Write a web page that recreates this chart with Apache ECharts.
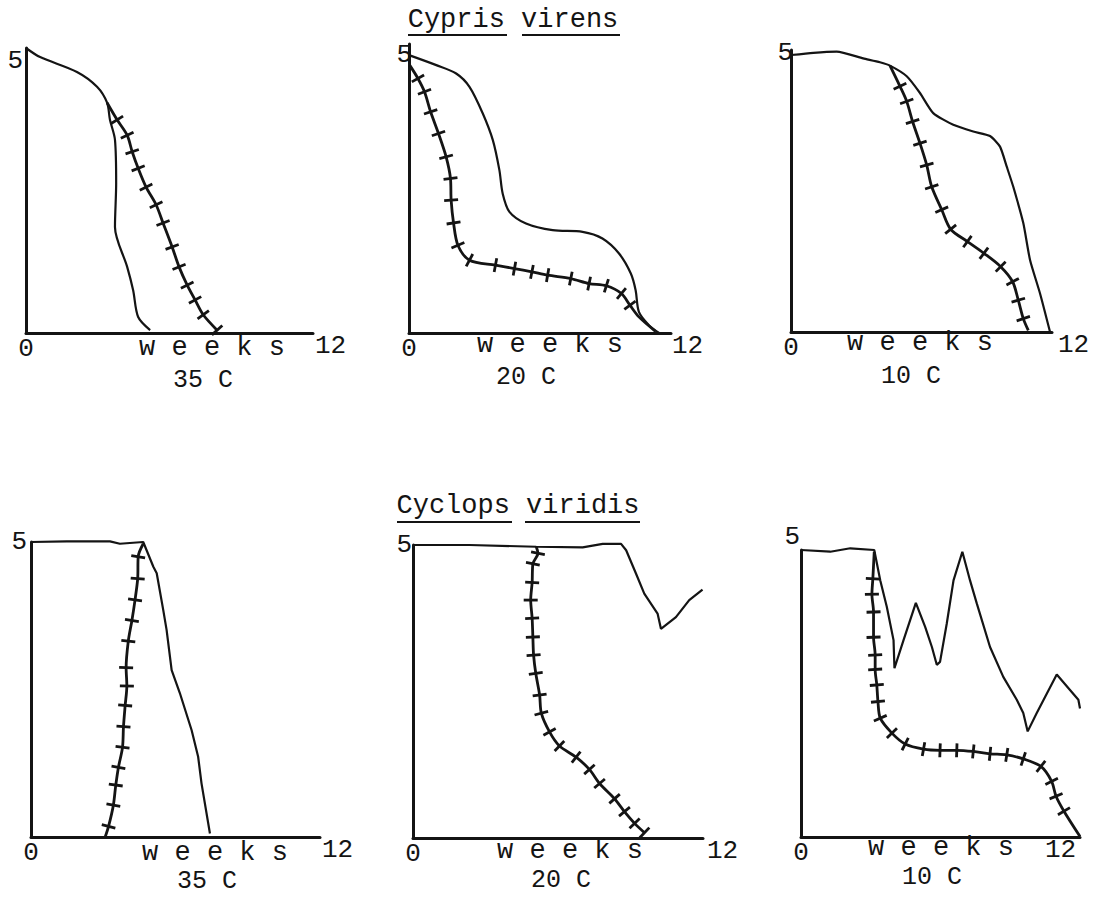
<!DOCTYPE html>
<html><head><meta charset="utf-8">
<script src="https://cdn.jsdelivr.net/npm/echarts@6/dist/echarts.min.js"></script>
<style>html,body{margin:0;padding:0;background:#fff}#c{width:1093px;height:897px}</style>
</head><body><div id="c"></div>
<script>
// ---------- DATA (weeks vs. value) ----------
const speciesTitles = ['Cypris virens', 'Cyclops viridis'];
const tempLabels = ['35 C', '20 C', '10 C', '35 C', '20 C', '10 C'];
const weeksLabel = 'w e e k s';
const xTickLabels = ['0', '12'];
const yTickLabel = '5';

// Cypris virens 35 C
const p1PlainX = [0, 0.59, 2.13, 2.97, 3.39, 3.51, 3.72, 3.77, 3.72, 4.23, 4.48, 4.69, 5.19];
const p1PlainY = [5.0, 4.84, 4.58, 4.32, 4.04, 3.74, 3.39, 2.63, 1.86, 1.16, 0.75, 0.28, 0.05];
const p1CrossX = [3.39, 3.81, 4.23, 4.44, 4.69, 5.02, 5.44, 5.73, 6.11, 6.40, 6.74, 7.07, 7.41, 7.99];
const p1CrossY = [4.04, 3.74, 3.47, 3.18, 2.89, 2.56, 2.25, 1.93, 1.51, 1.16, 0.84, 0.58, 0.32, 0.05];
// Cypris virens 20 C
const p2PlainX = [0, 1.25, 2.16, 2.77, 3.38, 3.84, 4.14, 4.29, 4.60, 5.36, 6.58, 7.95, 8.86, 9.62, 10.16, 10.38, 10.53, 10.99, 11.45];
const p2PlainY = [5.0, 4.82, 4.67, 4.43, 3.95, 3.47, 2.93, 2.51, 2.18, 1.97, 1.85, 1.82, 1.70, 1.43, 1.07, 0.77, 0.38, 0.14, 0];
const p2CrossX = [0.03, 0.41, 0.71, 0.99, 1.35, 1.70, 1.90, 1.93, 2.04, 2.24, 2.77, 3.96, 4.83, 5.63, 6.35, 7.41, 8.25, 9.04, 9.73, 10.12, 10.53, 11.29];
const p2CrossY = [4.82, 4.58, 4.34, 3.98, 3.59, 3.17, 2.78, 2.39, 1.98, 1.58, 1.31, 1.22, 1.16, 1.10, 1.04, 0.98, 0.89, 0.85, 0.71, 0.50, 0.29, 0.03];
// Cypris virens 10 C
const p3PlainX = [0, 1.03, 2.10, 3.32, 4.09, 4.55, 5.32, 5.93, 6.54, 7.46, 8.38, 9.15, 9.61, 9.92, 10.22, 10.68, 10.99, 11.45, 11.91];
const p3PlainY = [4.96, 5.0, 5.02, 4.90, 4.83, 4.77, 4.58, 4.28, 3.92, 3.71, 3.59, 3.51, 3.32, 2.96, 2.60, 1.95, 1.29, 0.69, 0];
const p3CrossX = [4.55, 5.01, 5.32, 5.59, 5.93, 6.24, 6.47, 6.93, 7.34, 8.11, 8.87, 9.64, 10.19, 10.45, 10.68, 10.91];
const p3CrossY = [4.77, 4.40, 4.13, 3.77, 3.38, 2.99, 2.60, 2.19, 1.84, 1.62, 1.41, 1.17, 0.90, 0.57, 0.24, 0.03];
// Cyclops viridis 35 C
const p4PlainX = [0, 1.49, 3.28, 3.69, 4.66, 5.08, 5.22, 5.49, 5.63, 5.84, 6.18, 6.67, 6.94, 7.08, 7.43];
const p4PlainY = [5.0, 5.01, 5.01, 4.97, 5.0, 4.58, 4.47, 3.85, 3.51, 2.83, 2.44, 1.81, 1.36, 0.91, 0.06];
const p4CrossX = [4.66, 4.45, 4.43, 4.32, 4.19, 4.04, 3.95, 3.98, 3.91, 3.84, 3.80, 3.63, 3.52, 3.42, 3.22, 3.08];
const p4CrossY = [4.97, 4.75, 4.38, 4.02, 3.67, 3.32, 2.87, 2.56, 2.23, 1.87, 1.52, 1.18, 0.88, 0.54, 0.18, 0];
// Cyclops viridis 20 C
const p5PlainX = [0, 2.34, 5.10, 7.02, 7.85, 8.61, 8.82, 9.23, 9.57, 10.12, 10.26, 10.88, 11.43, 11.98];
const p5PlainY = [5.0, 5.0, 4.97, 4.96, 5.02, 5.02, 4.91, 4.51, 4.17, 3.83, 3.57, 3.77, 4.06, 4.24];
const p5CrossX = [5.10, 5.17, 4.96, 4.93, 4.87, 4.93, 4.96, 4.99, 5.08, 5.24, 5.31, 5.65, 6.06, 6.75, 7.30, 7.72, 8.34, 8.75, 9.17, 9.58];
const p5CrossY = [4.97, 4.86, 4.68, 4.36, 4.06, 3.75, 3.43, 3.12, 2.81, 2.44, 2.13, 1.81, 1.57, 1.38, 1.17, 0.93, 0.67, 0.45, 0.25, 0.09];
// Cyclops viridis 10 C
const p6PlainX = [0, 1.26, 2.12, 3.15, 3.41, 3.69, 3.98, 4.02, 4.41, 4.94, 5.34, 5.63, 5.84, 5.98, 6.27, 6.56, 6.94, 7.27, 7.56, 8.13, 8.70, 9.28, 9.56, 9.75, 10.14, 11.0, 11.57, 11.93, 12.0];
const p6PlainY = [5.0, 4.97, 5.03, 5.0, 4.47, 4.01, 3.43, 2.94, 3.43, 4.08, 3.66, 3.31, 3.0, 3.05, 3.72, 4.47, 4.97, 4.47, 4.07, 3.31, 2.79, 2.39, 2.16, 1.84, 2.16, 2.83, 2.56, 2.39, 2.24];
const p6CrossX = [3.15, 3.09, 3.05, 3.12, 3.12, 3.19, 3.19, 3.26, 3.31, 3.41, 3.91, 4.48, 5.27, 5.98, 6.70, 7.41, 8.13, 8.85, 9.56, 10.32, 10.78, 10.97, 11.31, 12.0];
const p6CrossY = [4.97, 4.50, 4.23, 3.92, 3.48, 3.17, 2.92, 2.65, 2.36, 2.07, 1.81, 1.62, 1.53, 1.51, 1.51, 1.49, 1.45, 1.43, 1.36, 1.23, 0.97, 0.71, 0.45, 0.01];

const panelData = [
  [p1PlainX, p1PlainY, p1CrossX, p1CrossY],
  [p2PlainX, p2PlainY, p2CrossX, p2CrossY],
  [p3PlainX, p3PlainY, p3CrossX, p3CrossY],
  [p4PlainX, p4PlainY, p4CrossX, p4CrossY],
  [p5PlainX, p5PlainY, p5CrossX, p5CrossY],
  [p6PlainX, p6PlainY, p6CrossX, p6CrossY]
];

// ---------- LAYOUT / STYLE ----------
const INK = '#141414';
const FONT = '"Liberation Mono", "DejaVu Sans Mono", monospace';
const layout = [
  {left: 26, width: 287, top: 48, height: 285, yMax: 5, yVA: 'top', yMargin: 3, nameGap: 2, weeks: [212, 348], temp: [203, 380], ps: 0.3, bareHead: 1, bareTail: 0},
  {left: 409, width: 262, top: 44, height: 289, yMax: 5.2, yVA: 'middle', yMargin: -3, nameGap: 1, weeks: [550, 345], temp: [526, 377], ps: 0.3, bareHead: 1, bareTail: 2},
  {left: 791, width: 261, top: 50, height: 282, yMax: 5.05, yVA: 'middle', yMargin: -2, nameGap: 6, weeks: [920, 343], temp: [911, 376], ps: 0.2, bareHead: 1, bareTail: 1},
  {left: 31, width: 289, top: 542, height: 295, yMax: 5, yVA: 'middle', yMargin: 4, nameGap: 2, weeks: [215, 853], temp: [207, 881], ps: 0, bareHead: 1, bareTail: 1},
  {left: 413, width: 290, top: 545, height: 293, yMax: 5, yVA: 'middle', yMargin: 1, nameGap: 4, weeks: [570, 851], temp: [561, 880], ps: 0, bareHead: 1, bareTail: 0},
  {left: 801, width: 279, top: 550, height: 287, yMax: 5, yVA: 'bottom', yMargin: 1, nameGap: -35, weeks: [941, 848], temp: [932, 877], ps: 0, bareHead: 1, bareTail: 1}
];
const titleLayout = [
  {x: 513, y: 20, under: [[408, 507], [522, 620]], uy: 35},
  {x: 518, y: 506, under: [[397, 512], [525, 640]], uy: 522}
];

const grids = [], xAxes = [], yAxes = [], series = [], graphics = [];

layout.forEach((L, i) => {
  grids.push({left: L.left, top: L.top, width: L.width, height: L.height, containLabel: false, outerBoundsMode: 'none'});
  xAxes.push({
    type: 'value', gridIndex: i, min: 0, max: 12, interval: 12,
    axisLine: {show: true, onZero: false, lineStyle: {color: INK, width: 3}},
    axisTick: {show: false}, splitLine: {show: false},
    axisLabel: {show: true, margin: 3, color: INK, fontFamily: FONT, fontSize: 26,
      formatter: v => (v === 0 ? xTickLabels[0] : '')},
    name: xTickLabels[1], nameLocation: 'end', nameGap: L.nameGap,
    nameTextStyle: {color: INK, fontFamily: FONT, fontSize: 26, align: 'left', verticalAlign: 'top'}
  });
  yAxes.push({
    type: 'value', gridIndex: i, min: 0, max: L.yMax, interval: 5,
    axisLine: {show: true, onZero: false, lineStyle: {color: INK, width: 3}},
    axisTick: {show: false}, splitLine: {show: false},
    axisLabel: {show: true, margin: L.yMargin, color: INK, fontFamily: FONT, fontSize: 26,
      verticalAlign: L.yVA, formatter: v => (v === 5 ? yTickLabel : '')}
  });

  const [px, py, cx, cy] = panelData[i];
  const sx = L.width / 12, sy = L.height / L.yMax;
  series.push({
    type: 'line', xAxisIndex: i, yAxisIndex: i, smooth: L.ps, clip: false,
    showSymbol: false, symbol: 'none',
    lineStyle: {color: INK, width: 2.2},
    data: px.map((x, k) => [x, py[k]])
  });
  const n = cx.length;
  const crossData = cx.map((x, k) => {
    const a = Math.max(0, k - 1), b = Math.min(n - 1, k + 1);
    const dx = (cx[b] - cx[a]) * sx, dy = (cy[b] - cy[a]) * sy;
    const ang = Math.atan2(dy, dx) * 180 / Math.PI + 90;
    const bare = k < L.bareHead || k >= n - L.bareTail;
    return {value: [x, cy[k]], symbol: bare ? 'none' : 'rect', symbolRotate: ang};
  });
  series.push({
    type: 'line', xAxisIndex: i, yAxisIndex: i, smooth: 0.3, clip: false,
    showSymbol: true, showAllSymbol: true, symbol: 'rect', symbolSize: [14, 2.8],
    itemStyle: {color: INK}, lineStyle: {color: INK, width: 2.8},
    data: crossData
  });

  graphics.push({type: 'text', x: L.weeks[0], y: L.weeks[1],
    style: {text: weeksLabel, font: '27px ' + FONT, fill: INK, align: 'center', verticalAlign: 'middle', textAlign: 'center', textVerticalAlign: 'middle'}});
  graphics.push({type: 'text', x: L.temp[0], y: L.temp[1],
    style: {text: tempLabels[i], font: '25px ' + FONT, fill: INK, align: 'center', verticalAlign: 'middle', textAlign: 'center', textVerticalAlign: 'middle'}});
});

titleLayout.forEach((T, j) => {
  graphics.push({type: 'text', x: T.x, y: T.y,
    style: {text: speciesTitles[j], font: '27px ' + FONT, fill: INK, align: 'center', verticalAlign: 'middle', textAlign: 'center', textVerticalAlign: 'middle'}});
  T.under.forEach(u => graphics.push({type: 'line', shape: {x1: u[0], y1: T.uy, x2: u[1], y2: T.uy}, style: {stroke: INK, lineWidth: 2}}));
});

const chart = echarts.init(document.getElementById('c'), null, {renderer: 'svg'});
chart.setOption({
  animation: false,
  backgroundColor: '#ffffff',
  grid: grids, xAxis: xAxes, yAxis: yAxes, series: series,
  graphic: {elements: graphics}
});
</script></body></html>
